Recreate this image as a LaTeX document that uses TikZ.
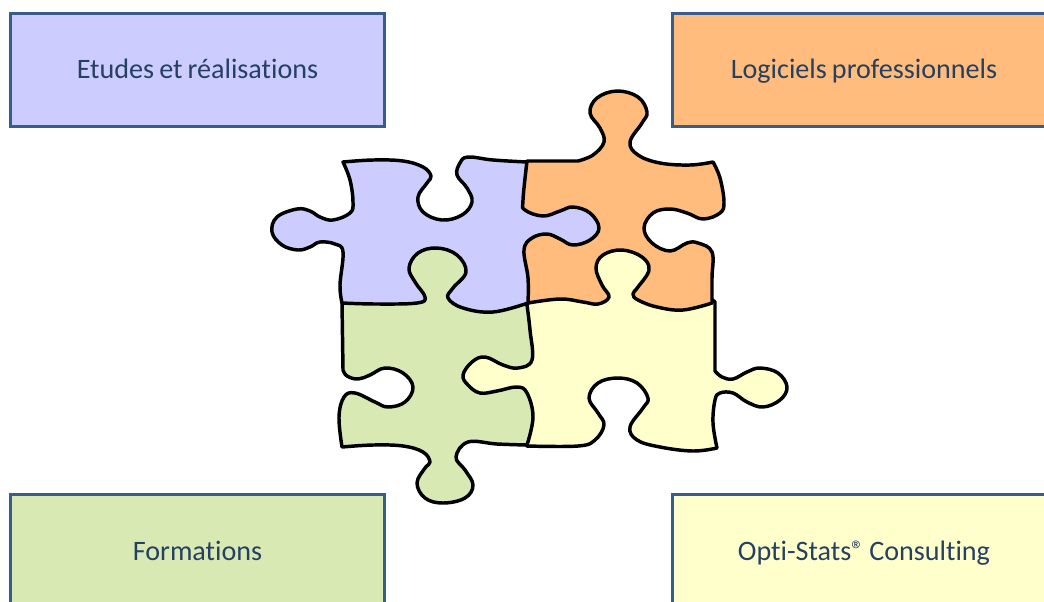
\documentclass[tikz,border=0pt]{standalone}
\usepackage{fontspec}
\setmainfont{Carlito}[Ligatures=NoCommon,WordSpace=0.8]
\definecolor{edgeblue}{HTML}{385D8A}
\definecolor{labelink}{HTML}{254061}
\definecolor{cblue}{HTML}{CCCCFF}
\definecolor{corange}{HTML}{FFBC7C}
\definecolor{cgreen}{HTML}{D8E9B4}
\definecolor{cyellow}{HTML}{FFFFCC}
\tikzset{
  card/.style={draw=edgeblue,line width=2.4pt,rectangle,minimum height=84.5pt,
    inner sep=0pt,outer sep=0pt,text=labelink,text height=16.75pt,text depth=3.75pt,font=\fontsize{21.1}{25}\selectfont},
  wide/.style={card,minimum width=287pt},
  narrow/.style={card,minimum width=280pt},
  lowcard/.style={minimum height=86pt},
  puzzle/.style={draw=black,line width=2.6pt,line join=round,line cap=round},
  sm/.style={smooth,tension=0.65}
}
\begin{document}
\begin{tikzpicture}[x=0.75pt,y=-0.75pt]
\useasboundingbox (0,0) rectangle (1044,601);
\clip (0,0) rectangle (1044,601);
\fill[white] (0,0) rectangle (1044,601);
\node[narrow,fill=cblue] (etudes) at (197.5,70) {Etudes et réalisations};
\node[wide,fill=corange] (logiciels) at (864,70) {Logiciels professionnels};
\node[narrow,lowcard,fill=cgreen] (formations) at (197.5,552) {Formations};
\node[wide,lowcard,fill=cyellow] (opti) at (864,552) {Opti-Stats\raisebox{0.15ex}{\scalebox{0.9}{®}} Consulting};
% yellow piece
\draw[puzzle,fill=cyellow]
 plot[sm] coordinates {(527,446)(578,446)(595,440)(604,425)(598,413)(589,398)(598,383)(618,378)(637,383)(648,398)(643,408)(630,427)(637,440)(660,447)(693,451)(717,448)}
 -- plot[sm] coordinates {(717,448)(713,423)(715,400)(720,393)(733,393)(747,402)(763,407)(780,400)(787,387)(778,373)(760,368)(747,372)(733,379)(722,377)(715,371)}
 -- (715,302) -- (700,290) -- (640,248) -- (598,248) -- (530,300) -- (490,345) -- (455,375) -- (490,410) -- cycle;
% green piece
\draw[puzzle,fill=cgreen]
 (342,303) -- plot[sm] coordinates {(343,370)(347,376)(358,379)(370,375)(385,368)(403,373)(413,387)(405,402)(388,407)(375,402)(355,393)(344,397)(339,417)(342,447)}
 -- plot[sm] coordinates {(342,447)(373,445)(403,446)(423,452)(430,462)(425,468)(417,483)(425,498)(443,503)(465,498)(473,485)(465,470)(456,457)(468,442)(497,444)(527,445)}
 -- plot[sm] coordinates {(527,445)(533,417)(527,393)(517,387)(497,391)(480,393)(468,385)(463,375)(472,362)(485,357)(503,365)(518,368)(532,360)(530,330)(527,305)}
 -- (475,240) -- (400,240) -- cycle;
% blue piece
\draw[puzzle,fill=cblue]
 plot[sm] coordinates {(343,162)(373,160)(403,161)(423,167)(431,176)(427,183)(418,197)(423,212)(442,220)(462,215)(472,202)(467,188)(457,175)(460,163)(468,157)(493,160)(527,162)}
 -- (540,200) -- (605,205) -- (605,248) -- (540,248) -- (535,300) -- (528,303)
 -- plot[sm] coordinates {(528,303)(493,312)(463,308)(448,298)(453,288)(466,272)(457,255)(437,248)(418,253)(409,268)(415,282)(425,297)(417,303)(377,304)(342,303)}
 -- plot[sm] coordinates {(342,303)(340,285)(343,252)(335,244)(320,242)(310,247)(298,250)(282,245)(272,232)(277,217)(297,209)(310,211)(320,217)(333,220)(350,213)(353,202)(350,180)(343,162)}
 -- cycle;
% orange piece
\draw[puzzle,fill=corange]
 (527,161) -- (578,161)
 -- plot[sm] coordinates {(578,161)(593,155)(604,142)(600,128)(590,113)(597,98)(617,91)(638,97)(647,112)(642,123)(630,142)(638,155)(660,163)(690,165)(713,162)}
 -- plot[sm] coordinates {(713,162)(720,178)(724,202)(720,213)(703,219)(687,213)(670,209)(653,213)(644,228)(652,243)(670,251)(687,243)(698,243)(712,252)(712,278)(712,303)}
 -- plot[sm] coordinates {(712,303)(683,310)(657,307)(638,300)(633,294)(638,287)(649,270)(642,257)(622,250)(603,255)(596,268)(602,285)(609,297)(598,304)(583,302)(560,299)(528,303)}
 -- plot[sm] coordinates {(528,303)(528,278)(524,250)(532,238)(547,234)(560,239)(573,245)(590,240)(599,228)(590,213)(573,207)(560,211)(543,216)(525,210)(523,200)(527,161)}
 -- cycle;
\end{tikzpicture}
\end{document}
